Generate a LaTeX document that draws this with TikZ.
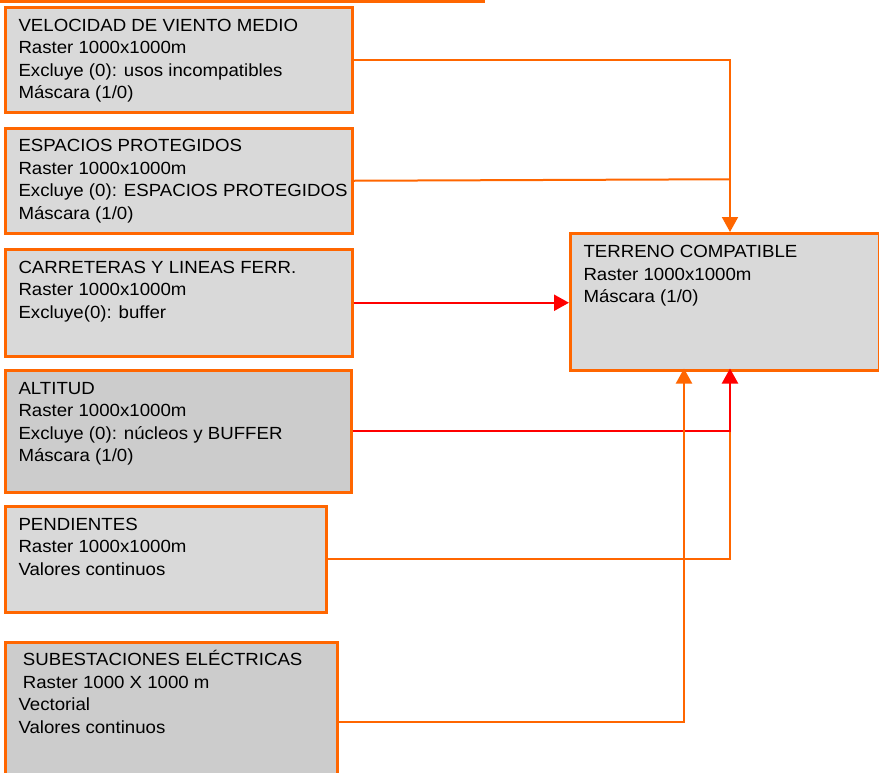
\documentclass[tikz,border=0pt]{standalone}
\usepackage{fontspec}
\setmainfont{Liberation Sans}[FakeStretch=1.06]
\usetikzlibrary{arrows.meta}
\definecolor{orng}{HTML}{FF6600}
\definecolor{rd}{HTML}{FF0000}
\definecolor{lgray}{HTML}{D9D9D9}
\definecolor{dgray}{HTML}{CCCCCC}
\begin{document}
\begin{tikzpicture}[x=1pt,y=-1pt,
  box/.style={draw=orng, line width=3pt, fill=lgray, rectangle, inner sep=0pt, anchor=north west},
  dbox/.style={box, fill=dgray},
  txt/.style={anchor=north west, inner sep=0pt, align=left, text=black, font=\fontsize{17.6}{22.5}\selectfont},
  oline/.style={draw=orng, line width=2pt},
  rline/.style={draw=rd, line width=2.2pt},
  tip/.style={-{Triangle[width=16pt,length=15pt]}}]
\useasboundingbox (0,0) rectangle (879,772);

% top rule
\draw[orng, line width=2.8pt] (0,1.4) -- (485,1.4);

% boxes
\node[box,  minimum width=347pt, minimum height=104.5pt] (b1) at (3.5,6) {};
\node[box,  minimum width=347pt, minimum height=105.5pt] (b2) at (3.5,126.5) {};
\node[box,  minimum width=347pt, minimum height=106.5pt] (b3) at (3.5,248) {};
\node[dbox, minimum width=346.5pt, minimum height=121.5pt] (b4) at (3.5,369) {};
\node[box,  minimum width=321.5pt, minimum height=105.5pt] (b5) at (3.5,505) {};
\node[dbox, minimum width=332.5pt, minimum height=159pt] (b6) at (3.5,640.5) {};
\node[box,  minimum width=309pt, minimum height=136.5pt] (t) at (569,232) {};

% texts
\node[txt] (t1) at ([shift={(14.8,9.25)}]b1.north west) {\strut VELOCIDAD DE VIENTO MEDIO\\Raster 1000x1000m\\Excluye (0): usos incompatibles\\Máscara (1/0)};
\node[txt] (t2) at ([shift={(14.8,9.25)}]b2.north west) {\strut ESPACIOS PROTEGIDOS\\Raster 1000x1000m\\Excluye (0): ESPACIOS PROTEGIDOS\\Máscara (1/0)};
\node[txt] (t3) at ([shift={(14.8,9.25)}]b3.north west) {\strut CARRETERAS Y LINEAS FERR.\\Raster 1000x1000m\\Excluye(0): buffer};
\node[txt] (t4) at ([shift={(14.8,9.25)}]b4.north west) {\strut ALTITUD\\Raster 1000x1000m\\Excluye (0): núcleos y BUFFER\\Máscara (1/0)};
\node[txt] (t5) at ([shift={(14.8,9.25)}]b5.north west) {\strut PENDIENTES\\Raster 1000x1000m\\Valores continuos};
\node[txt] (t6) at ([shift={(14.8,9.25)}]b6.north west) {\strut\hspace{4.4pt}SUBESTACIONES ELÉCTRICAS\\\hspace{4.4pt}Raster 1000 X 1000 m\\Vectorial\\Valores continuos};
\node[txt] (tt) at ([shift={(14.3,9.75)}]t.north west) {\strut TERRENO COMPATIBLE\\Raster 1000x1000m\\Máscara (1/0)};

% connector end points
\coordinate (ttop) at (730,232);
\coordinate (j2) at (730,179.25);
\coordinate (j5) at (730,429.75);
\coordinate (tbr) at (730,368.5);
\coordinate (tbo) at (684,368.5);

% connectors
\draw[oline, tip, orng] (b1.east) -| (ttop);
\draw[oline] (b2.east) -- (j2);
\draw[rline, tip, rd] (b3.east) -- (b3.east -| t.west);
\draw[oline] (b5.east) -| (j5);
\draw[rline, tip, rd] (b4.east) -| (tbr);
\draw[oline, tip, orng] (b6.east) -| (tbo);
\end{tikzpicture}
\end{document}
